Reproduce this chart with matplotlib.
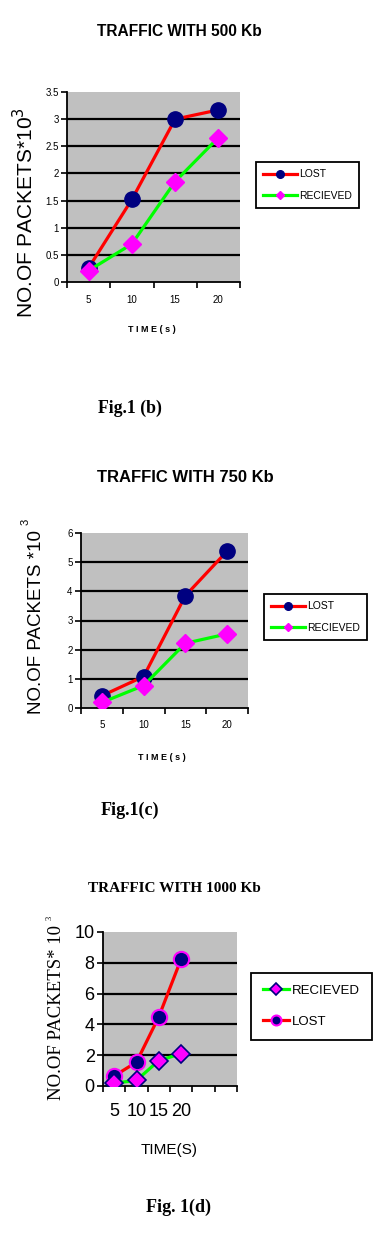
import matplotlib
matplotlib.use("Agg")
import matplotlib.pyplot as plt
from matplotlib import font_manager

# data
times = ["5", "10", "15", "20"]
lost_500 = [0.26, 1.52, 3.0, 3.17]
recv_500 = [0.21, 0.70, 1.85, 2.66]
lost_750 = [0.42, 1.08, 3.85, 5.38]
recv_750 = [0.19, 0.77, 2.22, 2.54]
lost_1000 = [0.65, 1.55, 4.5, 8.25]
recv_1000 = [0.18, 0.37, 1.65, 2.1]

W, H = 373, 1244
RED, GREEN, NAVY, MAGENTA, SILVER = "#ff0000", "#00ff00", "#000080", "#ff00ff", "#c0c0c0"

names = {f.name for f in font_manager.fontManager.ttflist}
NARROW = "Liberation Sans Narrow" if "Liberation Sans Narrow" in names else "Liberation Sans"
SANS = "Liberation Sans"
SERIF = "Liberation Serif"

fig = plt.figure(figsize=(W / 100, H / 100), dpi=100)
fig.patch.set_facecolor("white")


def fx(px):
    return px / W


def fy(py):
    return 1 - py / H


def add_axes(x0, y0, x1, y1):
    return fig.add_axes([fx(x0), fy(y1), fx(x1) - fx(x0), (y1 - y0) / H])


def style_axes(ax, yticks, nslots, tick_font, tick_size):
    ax.set_facecolor(SILVER)
    ax.set_xlim(-0.5, nslots - 0.5)
    ax.set_ylim(yticks[0], yticks[-1])
    for y in yticks[1:-1]:
        ax.axhline(y, color="black", lw=1.6, zorder=1)
    ax.set_yticks(yticks)
    ax.set_yticklabels([f"{v:g}" for v in yticks], fontfamily=tick_font, fontsize=tick_size)
    ax.set_xticks([i - 0.5 for i in range(nslots + 1)])
    ax.set_xticklabels([])
    ax.set_xticks(range(len(times)), minor=True)
    ax.set_xticklabels(times, minor=True, fontfamily=tick_font, fontsize=tick_size)
    ax.tick_params(axis="x", which="major", length=4, width=1.2, direction="out")
    ax.tick_params(axis="x", which="minor", length=0, pad=9)
    ax.tick_params(axis="y", length=4, width=1.2, direction="out", pad=2)
    for s in ("top", "right"):
        ax.spines[s].set_visible(False)
    for s in ("left", "bottom"):
        ax.spines[s].set_linewidth(1.3)


def legend(ax, handles, x0, y0, size, font, hl, spacing=1.1, mscale=0.5, pad=0.7):
    lg = ax.legend(handles=handles, loc="upper left", bbox_to_anchor=(fx(x0), fy(y0)),
                   bbox_transform=fig.transFigure, borderaxespad=0, fancybox=False,
                   edgecolor="black", framealpha=1, markerscale=mscale, handlelength=hl,
                   handletextpad=0.2, labelspacing=spacing, borderpad=pad,
                   prop={"family": font, "size": size})
    lg.get_frame().set_linewidth(1.3)
    return lg


xs = range(len(times))

# ---- panel 1: 500 Kb
ax1 = add_axes(67, 92, 240, 282)
l1, = ax1.plot(xs, lost_500, color=RED, lw=2.3, marker="o", ms=11, mfc=NAVY, mec=NAVY, label="LOST", zorder=3)
r1, = ax1.plot(xs, recv_500, color=GREEN, lw=2.3, marker="D", ms=9, mfc=MAGENTA, mec=MAGENTA, label="RECIEVED", zorder=4)
style_axes(ax1, [0, 0.5, 1, 1.5, 2, 2.5, 3, 3.5], 4, NARROW, 7)
legend(ax1, [l1, r1], 256, 162, 7.5, NARROW, 3.2)
fig.text(fx(179), fy(32), "TRAFFIC WITH 500 Kb", ha="center", va="center",
         fontfamily=NARROW, fontweight="bold", fontsize=11.2)
fig.text(fx(25), fy(213), r"NO.OF PACKETS*10$^{3}$", rotation=90, ha="center", va="center",
         fontfamily=SANS, fontsize=15)
fig.text(fx(152), fy(330), "T I M E ( s )", ha="center", va="center", fontfamily=SANS,
         fontweight="bold", fontsize=6.5)
fig.text(fx(130), fy(408), "Fig.1 (b)", ha="center", va="center", fontfamily=SERIF,
         fontweight="bold", fontsize=12.8)

# ---- panel 2: 750 Kb
ax2 = add_axes(81, 533, 248, 708)
l2, = ax2.plot(xs, lost_750, color=RED, lw=2.3, marker="o", ms=11, mfc=NAVY, mec=NAVY, label="LOST", zorder=3)
r2, = ax2.plot(xs, recv_750, color=GREEN, lw=2.3, marker="D", ms=9, mfc=MAGENTA, mec=MAGENTA, label="RECIEVED", zorder=4)
style_axes(ax2, [0, 1, 2, 3, 4, 5, 6], 4, NARROW, 7)
legend(ax2, [l2, r2], 264, 594, 7.5, NARROW, 3.2)
fig.text(fx(185), fy(477), "TRAFFIC WITH 750 Kb", ha="center", va="center",
         fontfamily=NARROW, fontweight="bold", fontsize=12)
fig.text(fx(37), fy(622), "NO.OF PACKETS *10", rotation=90, ha="center", va="center",
         fontfamily=SANS, fontsize=13.5)
fig.text(fx(26), fy(522), "3", rotation=90, ha="center", va="center",
         fontfamily=SANS, fontsize=8)
fig.text(fx(162), fy(757), "T I M E ( s )", ha="center", va="center", fontfamily=SANS,
         fontweight="bold", fontsize=6.5)
fig.text(fx(130), fy(810), "Fig.1(c)", ha="center", va="center", fontfamily=SERIF,
         fontweight="bold", fontsize=13)

# ---- panel 3: 1000 Kb
ax3 = add_axes(103, 932, 237, 1086)
l3, = ax3.plot(xs, lost_1000, color=RED, lw=2.3, marker="o", ms=11, mfc=NAVY, mec=MAGENTA, mew=1.5, label="LOST", zorder=3)
r3, = ax3.plot(xs, recv_1000, color=GREEN, lw=2.3, marker="D", ms=9, mfc=MAGENTA, mec=NAVY, mew=1.2, label="RECIEVED", zorder=4)
style_axes(ax3, [0, 2, 4, 6, 8, 10], 6, NARROW, 13)
ax3.tick_params(axis="x", which="minor", pad=12)
legend(ax3, [r3, l3], 251, 973, 9.5, NARROW, 2.0, spacing=1.4, mscale=0.65, pad=0.9)
fig.text(fx(174), fy(889), "TRAFFIC WITH 1000 Kb", ha="center", va="center",
         fontfamily=SERIF, fontweight="bold", fontsize=11)
fig.text(fx(57), fy(1013), "NO.OF PACKETS* 10", rotation=90, ha="center", va="center",
         fontfamily=SERIF, fontsize=13.5)
fig.text(fx(50), fy(918), "3", rotation=90, ha="center", va="center",
         fontfamily=SERIF, fontsize=6)
fig.text(fx(169), fy(1150), "TIME(S)", ha="center", va="center", fontfamily=NARROW,
         fontsize=11)
fig.text(fx(179), fy(1207), "Fig. 1(d)", ha="center", va="center", fontfamily=SERIF,
         fontweight="bold", fontsize=13)

fig.savefig("out.png", dpi=100)
